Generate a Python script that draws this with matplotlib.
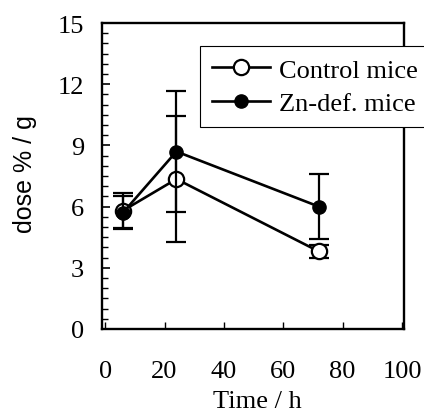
import matplotlib.pyplot as plt
from matplotlib.ticker import MultipleLocator
from matplotlib.lines import Line2D

# data
time_h = [6, 24, 72]
control = [5.8, 7.35, 3.8]
control_err = [0.85, 3.1, 0.3]
zndef = [5.7, 8.7, 6.0]
zndef_err = [0.8, 2.95, 1.6]
labels = ['Control mice', 'Zn-def. mice']

plt.rcParams['font.family'] = ['Liberation Serif', 'DejaVu Serif']

fig = plt.figure(figsize=(4.24, 4.14), dpi=100)
ax = fig.add_axes([0.241, 0.203, 0.712, 0.739])

ax.errorbar(time_h, control, yerr=control_err, fmt='-o', color='black',
            mfc='white', mec='black', mew=1.6, ms=11, lw=1.9,
            elinewidth=1.6, capsize=7, capthick=1.6, zorder=3)
ax.errorbar(time_h, zndef, yerr=zndef_err, fmt='-o', color='black',
            mfc='black', mec='black', ms=9.5, lw=1.9,
            elinewidth=1.6, capsize=7, capthick=1.6, zorder=4)

ax.set_xlim(-1, 100.7)
ax.set_ylim(0, 15)
ax.set_xticks([0, 20, 40, 60, 80, 100])
ax.set_yticks([0, 3, 6, 9, 12, 15])
ax.yaxis.set_minor_locator(MultipleLocator(0.5))
ax.tick_params(axis='both', which='both', direction='in', labelsize=19)
ax.tick_params(axis='x', which='major', length=5, width=1, pad=22)
ax.tick_params(axis='y', which='major', length=6, width=1.2, pad=13)
ax.tick_params(axis='y', which='minor', length=4, width=1)
for s in ax.spines.values():
    s.set_linewidth(1.7)

ax.set_xlabel('Time / h', fontsize=19, va='top')
ax.xaxis.set_label_coords(0.513, -0.2)
ax.set_ylabel('dose % / g', fontsize=18, family=['Liberation Sans', 'DejaVu Sans'])
ax.yaxis.set_label_coords(-0.215, 0.51)

# legend without error bars, sticking out past the right spine
handles = [Line2D([], [], color='black', lw=1.9, marker='o', ms=11, mfc='white', mec='black', mew=1.6),
           Line2D([], [], color='black', lw=1.9, marker='o', ms=9.5, mfc='black', mec='black')]
leg = fig.legend(handles, labels, loc='upper left', bbox_to_anchor=(0.472, 0.886),
                 fontsize=19, frameon=True, fancybox=False, edgecolor='black', framealpha=1,
                 handlelength=2.2, handletextpad=0.35, borderpad=0.45, labelspacing=0.38,
                 borderaxespad=0)
leg.get_frame().set_linewidth(0.8)

fig.savefig('out.png', dpi=100)
